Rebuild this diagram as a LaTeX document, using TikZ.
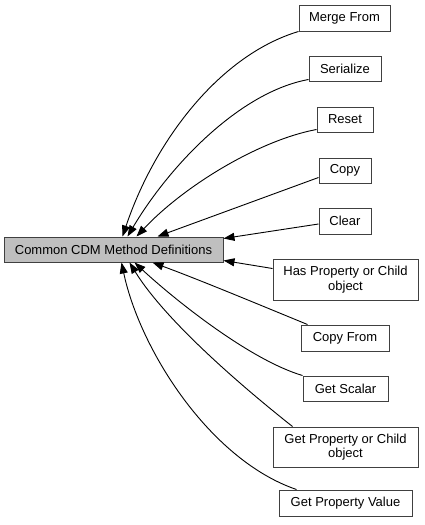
\documentclass[tikz,border=0pt]{standalone}
\usepackage{fontspec}
\setmainfont{Liberation Sans}
\usetikzlibrary{arrows.meta,calc}
\begin{document}
\begin{tikzpicture}[x=1pt,y=-1pt,
  box/.style={draw=black!75, fill=white, line width=1pt, inner sep=0pt, align=center,
    font=\fontsize{13}{14.5}\selectfont},
  mainbox/.style={box, fill=black!25},
  link/.style={draw=black, line width=0.9pt, -{Triangle[length=11pt,width=8pt]}}]
\useasboundingbox (0,0) rectangle (424,525);
\node[mainbox, minimum width=219pt, minimum height=25pt] (main) at (113.5,249.5) {Common CDM Method Definitions};
\node[box, minimum width=91pt, minimum height=26pt] (merge) at (344.5,18) {Merge From};
\node[box, minimum width=72pt, minimum height=25pt] (serial) at (345,68.5) {Serialize};
\node[box, minimum width=56pt, minimum height=25pt] (reset) at (345,119.5) {Reset};
\node[box, minimum width=52pt, minimum height=25pt] (copy) at (345,170.5) {Copy};
\node[box, minimum width=52pt, minimum height=26pt] (clear) at (345,221) {Clear};
\node[box, minimum width=145pt, minimum height=41pt] (hasprop) at (345.5,279.5) {Has Property or Child\\object};
\node[box, minimum width=88pt, minimum height=26pt] (copyfrom) at (345,338) {Copy From};
\node[box, minimum width=85pt, minimum height=25pt] (getscalar) at (345.5,388.5) {Get Scalar};
\node[box, minimum width=145pt, minimum height=40pt] (getprop) at (345.5,447) {Get Property or Child\\object};
\node[box, minimum width=133pt, minimum height=26pt] (getpropval) at (345.5,503) {Get Property Value};

\draw[link] (merge.south west) .. controls (220,55) and (155,140) .. ($(main.north west)+(119,0)$);
\draw[link] ($(serial.south west)+(0,-2)$) .. controls (240,92) and (170,165) .. ($(main.north west)+(124,0)$);
\draw[link] ($(reset.south west)+(0,-3)$) .. controls (260,140) and (185,185) .. ($(main.north west)+(133,0)$);
\draw[link] ($(copy.west)+(0,7)$) -- ($(main.north west)+(154,0)$);
\draw[link] ($(clear.west)+(0,3)$) -- ($(main.east)+(0,-11)$);
\draw[link] ($(hasprop.west)+(0,-11)$) -- ($(main.east)+(0,11)$);
\draw[link] ($(copyfrom.north west)+(7,0)$) .. controls (260,305) and (200,280) .. ($(main.south west)+(149,0)$);
\draw[link] (getscalar.north west) .. controls (250,360) and (175,300) .. ($(main.south west)+(131,0)$);
\draw[link] ($(getprop.north west)+(20,0)$) .. controls (240,385) and (165,320) .. ($(main.south west)+(126,0)$);
\draw[link] ($(getpropval.north west)+(18,0)$) .. controls (210,460) and (140,350) .. ($(main.south west)+(118,0)$);
\end{tikzpicture}
\end{document}
